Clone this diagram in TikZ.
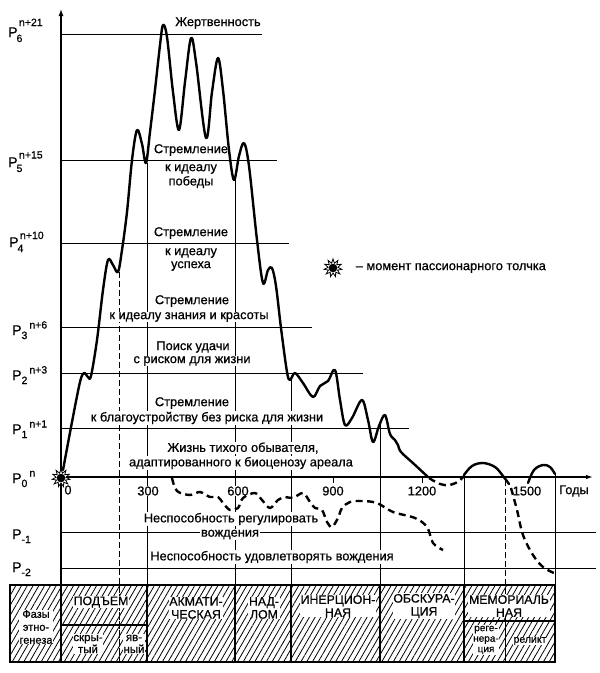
\documentclass[tikz,border=0pt]{standalone}
\usepackage{fontspec}
\setmainfont{Liberation Sans}[AutoFakeBold=0.7]
\usetikzlibrary{arrows.meta,shapes.geometric,patterns.meta}
\newcommand\PlevA[3]{P\hspace{-1pt}\rlap{\raisebox{-5pt}{\fontsize{10.5}{10}\selectfont #1}}\hspace{2.5pt}\raisebox{#3}{\fontsize{10.5}{10}\selectfont #2}}
\newcommand\PlevB[2]{P\raisebox{-4pt}{\fontsize{10.5}{10}\selectfont #1}\hspace{2pt}\raisebox{6.5pt}{\fontsize{10.5}{10}\selectfont #2}}
\begin{document}
\begin{tikzpicture}[x=1pt,y=-1pt,
  lvl/.style={line width=0.85pt},
  vln/.style={line width=0.85pt},
  vdash/.style={line width=0.85pt, dash pattern=on 6pt off 3pt},
  crv/.style={line width=2.4pt, line join=round, line cap=round},
  dcrv/.style={line width=2.4pt, line join=round, dash pattern=on 7pt off 4.5pt},
  txt/.style={font=\fontsize{12.8}{14}\selectfont\bfseries, fill=white, inner sep=0.6pt},
  cell/.style={font=\fontsize{12.3}{13}\selectfont\bfseries, fill=white, inner sep=0.6pt, align=center},
  smallcell/.style={font=\fontsize{10}{10.5}\selectfont\bfseries, fill=white, inner sep=0.5pt, align=center},
  plab/.style={font=\fontsize{14}{15}\selectfont\bfseries, anchor=base west, inner sep=0pt},
  hatch/.style={pattern={Lines[angle=60,distance=5pt,line width=0.8pt]}},
  burst/.style={star, star points=11, star point ratio=1.8, draw, line width=0.8pt, fill=white, minimum size=18pt, inner sep=0pt},
]
\useasboundingbox (0,0) rectangle (600,673);
\fill[white] (0,0) rectangle (600,673);

% level lines
\draw[lvl] (61,34) -- (262,34);
\draw[lvl] (61,160) -- (277,160);
\draw[lvl] (61,243) -- (289,243);
\draw[lvl] (61,327) -- (312,327);
\draw[lvl] (61,373) -- (363,373);
\draw[lvl] (61,428) -- (409,428);
\draw[lvl] (61,532) -- (596,532);
\draw[lvl] (61,568) -- (596,568);

% vertical phase lines
\draw[vdash] (119,272) -- (119,662);
\draw[vln] (147,163) -- (147,585);
\draw[vln] (235,180) -- (235,585);
\draw[vln] (291,380) -- (291,585);
\draw[vln] (380,425) -- (380,585);
\draw[vln] (464,474) -- (464,585);
\draw[vdash] (505,480) -- (505,662);
\draw[vln] (555,474) -- (555,585);

% table
\fill[hatch] (10,585) rectangle (555,662);
\draw[vdash] (119,585) -- (119,662);
\draw[vdash] (505,621) -- (505,662);
\draw[line width=1.4pt] (10,585) rectangle (555,662);
\foreach \x in {147,235,291,380,464} \draw[line width=1.2pt] (\x,585) -- (\x,662);
\draw[line width=1.2pt] (61,625) -- (147,625);
\draw[line width=1.2pt] (464,621) -- (555,621);

% axes
\draw[line width=1.3pt, -{Latex[length=7pt,width=5pt]}] (61,662) -- (61,9);
\draw[line width=1.3pt, -{Latex[length=7pt,width=4.5pt]}] (61,477) -- (593,477);
\draw[vln] (333,477) -- (333,483);
\draw[vln] (422,477) -- (422,483);

% axis labels
\node[txt] (t0) at (68,490) {0};
\node[txt] (t300) at (148,491) {300};
\node[txt] (t600) at (238,491) {600};
\node[txt] (t900) at (333,491) {900};
\node[txt] (t1200) at (422,491) {1200};
\node[txt] (t1500) at (527,491) {1500};
\node[txt] (tyear) at (574,491) {Годы};

\node[plab] (p6) at (8,37) {\PlevA{6}{n+21}{11pt}};
\node[plab] (p5) at (8,167) {\PlevA{5}{n+15}{8.5pt}};
\node[plab] (p4) at (9,247) {\PlevA{4}{n+10}{8pt}};
\node[plab] (p3) at (12,335) {\PlevB{3}{n+6}};
\node[plab] (p2) at (12,380) {\PlevB{2}{n+3}};
\node[plab] (p1) at (12,434) {\PlevB{1}{n+1}};
\node[plab] (p0) at (12,483) {\PlevB{0}{n}};
\node[plab] (pm1) at (12,539) {P\raisebox{-4pt}{\fontsize{10.5}{10}\selectfont -1}};
\node[plab] (pm2) at (12,572) {P\raisebox{-4pt}{\fontsize{10.5}{10}\selectfont -2}};

% level texts
\node[txt] (l6) at (218,23) {Жертвенность};
\node[txt] (l5a) at (191,150) {Стремление};
\node[txt] (l5b) at (191,169) {к идеалу};
\node[txt] (l5c) at (191,182) {победы};
\node[txt] (l4a) at (191,233) {Стремление};
\node[txt] (l4b) at (191,253) {к идеалу};
\node[txt] (l4c) at (191,266) {успеха};
\node[txt] (l3a) at (192,301) {Стремление};
\node[txt] (l3b) at (189,317) {к идеалу знания и красоты};
\node[txt] (l2a) at (193,347) {Поиск удачи};
\node[txt] (l2b) at (192,361) {с риском для жизни};
\node[txt] (l1a) at (192,403) {Стремление};
\node[txt] (l1b) at (207,418) {к благоустройству без риска для жизни};
\node[txt] (l0a) at (243,448) {Жизнь тихого обывателя,};
\node[txt] (l0b) at (241,463) {адаптированного к биоценозу ареала};
\node[txt] (lm1a) at (231,519) {Неспособность регулировать};
\node[txt] (lm1b) at (230,534.5) {вождения};
\node[txt] (lm2) at (272,557) {Неспособность удовлетворять вождения};

% table texts
\node[cell, font=\fontsize{11}{13}\selectfont\bfseries] (c0) at (36,627) {Фазы\\этно-\\генеза};
\node[cell] (c1) at (101,602) {ПОДЪЕМ};
\node[cell, font=\fontsize{11.5}{12}\selectfont\bfseries] (c1a) at (88,644) {скры-\\тый};
\node[cell, font=\fontsize{11.5}{12}\selectfont\bfseries] (c1b) at (134,644) {яв-\\ный};
\node[cell] (c2) at (196,608) {АКМАТИ-\\ЧЕСКАЯ};
\node[cell] (c3) at (264,608) {НАД-\\ЛОМ};
\node[cell] (c4) at (338,606) {ИНЕРЦИОН-\\НАЯ};
\node[cell] (c5) at (424,606) {ОБСКУРА-\\ЦИЯ};
\node[cell] (c6) at (509,606) {МЕМОРИАЛЬ\\НАЯ};
\node[smallcell] (c6a) at (486,640) {реге-\\нера-\\ция};
\node[smallcell, font=\fontsize{10.5}{11}\selectfont\bfseries] (c6b) at (530,641) {реликт};

% main curve
\draw[crv] plot[smooth, tension=0.55] coordinates {
 (63,470) (72,422) (80,382) (84,373) (88,377) (91,376) (97,340) (103,290)
 (108,260) (113,265) (118,272) (122,250) (127,212) (132,160) (137,130)
 (142,144) (146,163) (150,132) (155,90) (160,45) (163,25) (167,37) (173,92)
 (179,130) (185,82) (191,38) (196,62) (206,138) (212,92) (218,58) (223,90)
 (229,150) (234,180) (239,156) (244,143) (249,166) (257,240) (263,283)
 (268,270) (272,268) (276,286) (281,328) (287,372) (290,380) (295,373)
 (303,383) (313,397) (320,386) (328,381) (335,370) (340,400) (345,425)
 (352,418) (362,400) (368,420) (373,442) (379,426) (385,415) (390,434)
 (395,440) (398,445) (401,452) (414,464) (428,477)};
\draw[dcrv] plot[smooth, tension=0.6] coordinates {(429,478) (440,484) (450,485) (459,481) (464,476)};
\draw[crv] plot[smooth, tension=0.6] coordinates {(464,475) (472,466) (483,463) (495,467) (503,476) (509,484)};
\draw[crv] plot[smooth, tension=0.6] coordinates {(528,483) (534,470) (543,465) (550,467) (555,474)};
\draw[dcrv] plot[smooth, tension=0.6] coordinates {(511,488) (517,510) (523,535) (533,555) (543,567) (554,573)};

% lower dashed curve
\draw[dcrv] plot[smooth, tension=0.55] coordinates {
 (172,478) (177,491) (190,495) (200,492) (210,497) (218,497) (223,503)
 (230,510) (238,508) (243,498) (255,493) (262,500) (270,508) (278,500)
 (285,497) (293,498) (303,493) (310,502) (315,508) (322,510) (327,522)
 (332,527) (338,518) (342,508) (350,502) (362,501) (377,503) (393,512)
 (415,518) (427,527) (433,543) (443,550)};

% bursts
\node[burst] (b0) at (61,478) {};
\fill (b0.center) circle (4.3pt);
\node[burst] (b1) at (333,268) {};
\fill (b1.center) circle (4.3pt);
\node[txt, anchor=west] (leg) at (355,268) {– момент пассионарного толчка};
\end{tikzpicture}
\end{document}
